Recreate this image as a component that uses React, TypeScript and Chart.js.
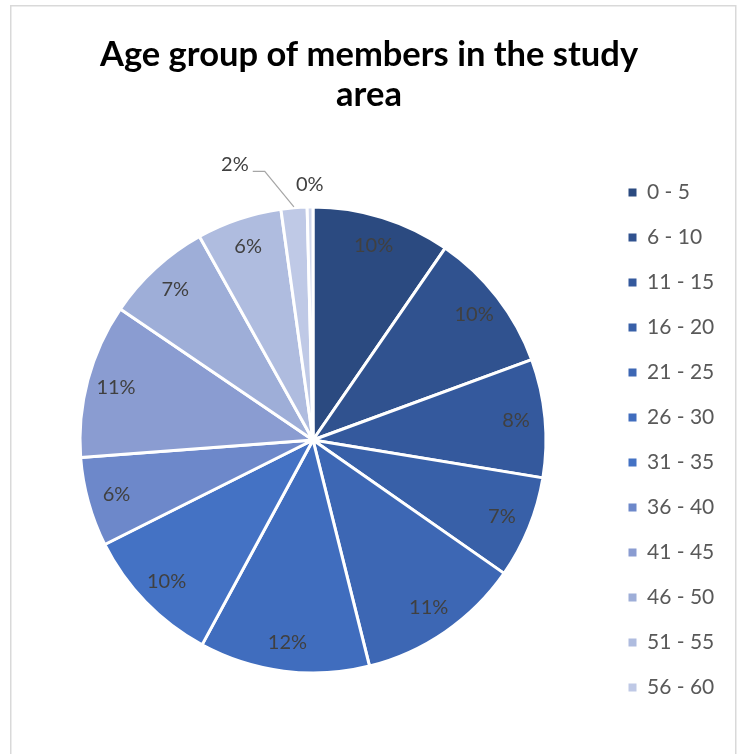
import React, { useEffect, useRef } from "react";
import { Chart, registerables } from "chart.js";

Chart.register(...registerables);

const TITLE_LINES = ["Age group of members in the study", "area"];
const AGE_GROUPS = [
  "0 - 5", "6 - 10", "11 - 15", "16 - 20", "21 - 25", "26 - 30",
  "31 - 35", "36 - 40", "41 - 45", "46 - 50", "51 - 55", "56 - 60", "61 - 65",
];
const SHARES = [9.6, 9.8, 8.2, 7.1, 11.4, 11.8, 9.7, 6.2, 10.7, 7.4, 5.9, 1.8, 0.4];
const LEGEND_COUNT = 12;
const COLORS = [
  "#2B4A80", "#30528F", "#34599D", "#3860A8", "#3D67B4", "#406DBE",
  "#4472C4", "#6D88CA", "#8A9CD1", "#9EAED8", "#AFBCDF", "#BFC9E6", "#D0D7EC",
];

const FONT = "Lato, 'Open Sans', sans-serif";

const framePlugin = {
  id: "frame",
  beforeDraw(chart: any) {
    const { ctx, width, height } = chart;
    ctx.save();
    ctx.fillStyle = "#ffffff";
    ctx.fillRect(0, 0, width, height);
    ctx.strokeStyle = "#d9d9d9";
    ctx.lineWidth = 1.5;
    ctx.strokeRect(10.75, 5.75, 725, height + 20);
    ctx.restore();
  },
};

const labelPlugin = {
  id: "sliceLabels",
  afterDatasetsDraw(chart: any) {
    const { ctx } = chart;
    const meta = chart.getDatasetMeta(0);
    const values = chart.data.datasets[0].data as number[];
    ctx.save();
    ctx.font = `20px ${FONT}`;
    ctx.fillStyle = "#404040";
    ctx.textBaseline = "middle";
    meta.data.forEach((arc: any, i: number) => {
      const { x, y, startAngle, endAngle, outerRadius } = arc.getProps(
        ["x", "y", "startAngle", "endAngle", "outerRadius"],
        true
      );
      const mid = (startAngle + endAngle) / 2;
      const v = values[i];
      const text = Math.round(v) + "%";
      if (v >= 3) {
        const d = outerRadius * 0.875;
        ctx.textAlign = "center";
        ctx.fillText(text, x + Math.cos(mid) * d, y + Math.sin(mid) * d);
      } else if (v >= 1) {
        const sx = x + Math.cos(mid) * (outerRadius + 1);
        const sy = y + Math.sin(mid) * (outerRadius + 1);
        const ea = mid - (5.5 * Math.PI) / 180;
        const ex = x + Math.cos(ea) * (outerRadius + 40);
        const ey = y + Math.sin(ea) * (outerRadius + 40);
        ctx.strokeStyle = "#a6a6a6";
        ctx.lineWidth = 1.2;
        ctx.beginPath();
        ctx.moveTo(sx, sy);
        ctx.lineTo(ex, ey);
        ctx.lineTo(ex - 12, ey);
        ctx.stroke();
        ctx.textAlign = "right";
        ctx.fillText(text, ex - 16, ey - 7);
      } else {
        const d = outerRadius + 22;
        ctx.textAlign = "center";
        ctx.fillText(text, x + Math.cos(mid) * d, y + Math.sin(mid) * d);
      }
    });
    ctx.restore();
  },
};

export default function App() {
  const canvasRef = useRef<HTMLCanvasElement | null>(null);

  useEffect(() => {
    if (!canvasRef.current) return;
    const defaultGen = (Chart as any).overrides.pie.plugins.legend.labels.generateLabels;
    const chart = new Chart(canvasRef.current, {
      type: "pie",
      data: {
        labels: AGE_GROUPS,
        datasets: [
          {
            data: SHARES,
            backgroundColor: COLORS,
            borderColor: "#ffffff",
            borderWidth: 3,
            radius: 233,
            hoverOffset: 0,
          },
        ],
      },
      options: {
        responsive: false,
        animation: false,
        events: [],
        layout: { padding: { top: 6, bottom: 10, left: 21.5, right: 22.5 } },
        plugins: {
          title: {
            display: true,
            text: TITLE_LINES,
            color: "#000000",
            font: { family: FONT, size: 34.5, weight: "bold", lineHeight: "40px" },
            padding: { top: 29, bottom: 21 },
          },
          legend: {
            position: "right",
            fullSize: false,
            maxWidth: 112,
            labels: {
              boxWidth: 8,
              boxHeight: 8,
              padding: 24,
              color: "#595959",
              font: { family: FONT, size: 21 },
              generateLabels: (c: any) =>
                defaultGen(c).map((it: any) => ({ ...it, lineWidth: 0, strokeStyle: it.fillStyle })),
              filter: (item: any) => item.index < LEGEND_COUNT,
            },
          },
          tooltip: { enabled: false },
        },
      },
      plugins: [framePlugin, labelPlugin],
    });
    return () => chart.destroy();
  }, []);

  return (
    <div style={{ position: "absolute", left: 0, top: 0, width: 739, height: 754 }}>
      <canvas ref={canvasRef} width={739} height={754} style={{ width: 739, height: 754, display: "block" }} />
    </div>
  );
}
